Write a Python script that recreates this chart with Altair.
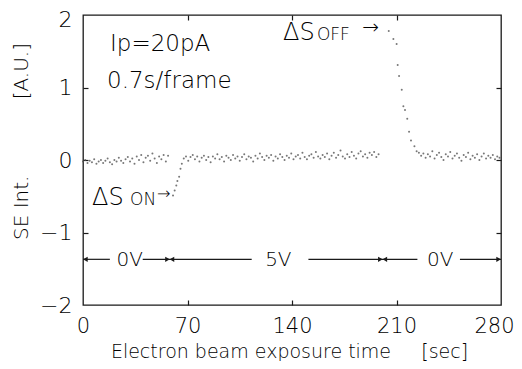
import altair as alt
import pandas as pd

# ---------------- data ----------------
# baseline before the bias is switched on (0V)
t_base1 = [0, 1.5, 3, 4.5, 6, 7.5, 9, 10.5, 12, 13.5, 15, 16.5, 18, 19.5, 21, 22.5, 24, 25.5,
           27, 28.5, 30, 31.5, 33, 34.5, 36, 37.5, 39, 40.5, 42, 43.5, 45, 46.5, 48, 49.5,
           51, 52.5, 54, 55.5, 57]
v_base1 = [-0.02, 0.00, -0.04, -0.01, -0.03, 0.01, -0.05, -0.02, 0.00, -0.04, -0.01, 0.02,
           -0.03, -0.06, 0.00, -0.02, 0.03, -0.01, -0.04, 0.01, 0.04, -0.02, 0.02, -0.05,
           0.05, 0.00, 0.07, -0.03, 0.03, 0.06, -0.01, 0.09, 0.02, -0.04, 0.05, 0.01, 0.07,
           -0.02, 0.06]
# switch-on transient
t_on = [60.3, 61.4, 62.5, 63.2, 64.4, 65.3, 66.2]
v_on = [-0.49, -0.42, -0.35, -0.29, -0.23, -0.12, -0.05]
# 5V plateau
t_base2 = [67.5, 69, 70.5, 72, 73.5, 75, 76.5, 78, 79.5, 81, 82.5, 84, 85.5, 87, 88.5, 90,
           91.5, 93, 94.5, 96, 97.5, 99, 100.5, 102, 103.5, 105, 106.5, 108, 109.5, 111,
           112.5, 114, 115.5, 117, 118.5, 120, 121.5, 123, 124.5, 126, 127.5, 129, 130.5,
           132, 133.5, 135, 136.5, 138, 139.5, 141, 142.5, 144, 145.5, 147, 148.5, 150,
           151.5, 153, 154.5, 156, 157.5, 159, 160.5, 162, 163.5, 165, 166.5, 168, 169.5,
           171, 172.5, 174, 175.5, 177, 178.5, 180, 181.5, 183, 184.5, 186, 187.5, 189,
           190.5, 192, 193.5, 195, 196.5, 198]
v_base2 = [0.02, 0.05, -0.01, 0.04, 0.07, 0.01, 0.05, -0.02, 0.03, 0.06, 0.00, 0.04, -0.03,
           0.05, 0.02, 0.08, 0.01, 0.04, -0.02, 0.06, 0.03, 0.00, 0.07, 0.02, 0.05, -0.01,
           0.04, 0.08, 0.01, 0.05, 0.03, -0.02, 0.06, 0.02, 0.09, 0.04, 0.00, 0.06, 0.03,
           0.07, -0.01, 0.05, 0.02, 0.08, 0.04, 0.00, 0.06, 0.03, 0.09, 0.01, 0.05, 0.07,
           0.02, 0.10, 0.04, 0.01, 0.06, 0.08, 0.03, 0.11, 0.05, 0.02, 0.07, 0.04, 0.09,
           0.01, 0.06, 0.10, 0.03, 0.07, 0.13, 0.05, 0.02, 0.08, 0.04, 0.11, 0.06, 0.02,
           0.09, 0.12, 0.05, 0.08, 0.03, 0.10, 0.07, 0.11, 0.04, 0.08]
# switch-off transient
t_off = [204.8, 207.9, 210.1, 210.8, 211.7, 213.5, 214.6, 215.7, 217.2, 218.4, 219.7, 222.0, 223.5]
v_off = [1.78, 1.67, 1.60, 1.31, 1.16, 0.97, 0.74, 0.69, 0.57, 0.39, 0.27, 0.19, 0.12]
# back to 0V
t_base3 = [225, 226.5, 228, 229.5, 231, 232.5, 234, 235.5, 237, 238.5, 240, 241.5, 243,
           244.5, 246, 247.5, 249, 250.5, 252, 253.5, 255, 256.5, 258, 259.5, 261, 262.5,
           264, 265.5, 267, 268.5, 270, 271.5, 273, 274.5, 276, 277.5, 279]
v_base3 = [0.10, 0.06, 0.09, 0.03, 0.08, 0.05, 0.12, 0.02, 0.07, 0.10, 0.04, 0.00, 0.08,
           0.05, 0.11, 0.02, 0.06, 0.09, 0.03, -0.01, 0.07, 0.04, 0.10, 0.01, 0.06, 0.03,
           0.08, 0.00, 0.05, 0.09, 0.02, 0.06, 0.03, 0.07, 0.01, 0.05, 0.03]

# applied bias timeline
bias_level = -1.37
bias_seg_start = [0, 40, 151, 252.5]
bias_seg_end = [18, 113, 224, 280]
bias_labels = ["0V", "5V", "0V"]
bias_label_x = [22.5, 122, 230.5]
bias_arrow_x = [1.6, 56.6, 59.6, 199.2, 202.2, 278.4]
bias_arrow_dir = ["triangle-left", "triangle-right", "triangle-left",
                  "triangle-right", "triangle-left", "triangle-right"]

x_ticks = [0, 70, 140, 210, 280]
y_ticks = [-2, -1, 0, 1, 2]
inner_x_ticks = [70, 140, 210]
inner_y_ticks = [-1, 0, 1]

# ---------------- chart ----------------
FONT = "DejaVu Sans"
INK = "#1a1a1a"
TXT = "#000000"
W, H = 418, 290

df = pd.DataFrame({
    "t": t_base1 + t_on + t_base2 + t_off + t_base3,
    "v": v_base1 + v_on + v_base2 + v_off + v_base3,
})
seg_df = pd.DataFrame({"x0": bias_seg_start, "x1": bias_seg_end,
                       "y": [bias_level] * len(bias_seg_start)})
lab_df = pd.DataFrame({"x": bias_label_x, "y": [bias_level] * len(bias_label_x),
                       "txt": bias_labels})
arr_df = pd.DataFrame({"x": bias_arrow_x, "y": [bias_level] * len(bias_arrow_x),
                       "shape": bias_arrow_dir})

xs = alt.Scale(domain=[0, 280], nice=False, zero=False)
ys = alt.Scale(domain=[-2, 2], nice=False, zero=False)

main_x = alt.Axis(orient="bottom", values=x_ticks, ticks=False, tickSize=0, domain=False,
                  grid=False, labelPadding=10, labelFlush=False, labelBaseline="top",
                  labelFont=FONT, labelFontSize=21, labelColor=TXT, labelFontWeight=200,
                  labelAlign=alt.ExprRef(expr="datum.value === 280 ? 'right' : 'center'"),
                  labelOffset=alt.ExprRef(expr="datum.value === 280 ? 13 : 0"),
                  title="Electron beam exposure time\u00a0\u00a0\u00a0\u00a0\u00a0[sec]",
                  titleFont=FONT, titleFontSize=19, titleFontWeight=200, titleColor=TXT,
                  titleX=W / 2 - 3, titleY=52, titleBaseline="alphabetic",
                  titleAlign="center")
main_y = alt.Axis(orient="left", values=y_ticks, ticks=False, tickSize=0, domain=False,
                  grid=False, labelPadding=11, labelFlush=False,
                  labelFont=FONT, labelFontSize=22, labelColor=TXT, labelFontWeight=200,
                  labelOffset=alt.ExprRef(expr="datum.value === 2 ? 4 : 0"),
                  title="SE Int." + "\u00a0" * 12 + "[A.U.]",
                  titleFont=FONT, titleFontSize=20, titleFontWeight=200, titleColor=TXT,
                  titleX=-56, titleY=126, titleBaseline="alphabetic", titleAlign="center",
                  titleAngle=270)


def tick_axis(orient, vals):
    return alt.Axis(orient=orient, values=vals, labels=False, domain=False, grid=False,
                    ticks=True, tickSize=5, tickColor=INK, tickWidth=1.2, offset=-5,
                    title="")


points = alt.Chart(df).mark_circle(size=4, color="#555555", opacity=0.8).encode(
    x=alt.X("t:Q", scale=xs, axis=main_x),
    y=alt.Y("v:Q", scale=ys, axis=main_y),
)

rules = alt.Chart(seg_df).mark_rule(color=INK, strokeWidth=1.2).encode(
    x=alt.X("x0:Q", scale=xs, axis=tick_axis("bottom", inner_x_ticks)),
    x2="x1:Q",
    y=alt.Y("y:Q", scale=ys, axis=tick_axis("left", inner_y_ticks)),
)

bias_text = alt.Chart(lab_df).mark_text(font=FONT, fontSize=20, fontWeight=200, color=TXT,
                                        align="left", baseline="middle", dy=1).encode(
    x=alt.X("x:Q", scale=xs, axis=tick_axis("top", inner_x_ticks)),
    y=alt.Y("y:Q", scale=ys, axis=tick_axis("right", inner_y_ticks)),
    text="txt:N",
)

arrows = alt.Chart(arr_df).mark_point(filled=True, size=28, color=INK, opacity=1).encode(
    x=alt.X("x:Q", scale=xs, axis=None),
    y=alt.Y("y:Q", scale=ys, axis=None),
    shape=alt.Shape("shape:N", scale=None),
)

# annotation texts (position in data units, style)
annotations = [
    ("Ip=20pA", 18.1, 1.50, 23, "left"),
    ("0.7s/frame", 16.1, 0.99, 23, "left"),
    ("\u0394S", 134.0, 1.655, 24, "left"),
    ("OFF", 156.7, 1.655, 17, "left"),
    ("\u2192", 187.0, 1.74, 20, "left"),
    ("\u0394S", 6.0, -0.62, 24, "left"),
    ("ON", 31.5, -0.62, 17, "left"),
    ("\u2192", 49.5, -0.54, 16, "left"),
]
ann_layers = []
for txt, ax_, ay_, fs, al in annotations:
    ann_layers.append(
        alt.Chart(pd.DataFrame({"x": [ax_], "y": [ay_], "txt": [txt]}))
        .mark_text(font=FONT, fontSize=fs, fontWeight=200, color=TXT, align=al,
                   baseline="alphabetic")
        .encode(x=alt.X("x:Q", scale=xs, axis=None),
                y=alt.Y("y:Q", scale=ys, axis=None),
                text="txt:N")
    )

chart = alt.layer(points, rules, bias_text, arrows, *ann_layers).resolve_axis(
    x="independent", y="independent"
).properties(
    width=W, height=H,
    padding={"left": 75, "top": 7, "right": 13, "bottom": 56},
    autosize=alt.AutoSizeParams(type="none"),
    background="white",
).configure_view(stroke=INK, strokeWidth=1.3)

chart.save("out.html", embed_options={"renderer": "svg", "actions": False})
